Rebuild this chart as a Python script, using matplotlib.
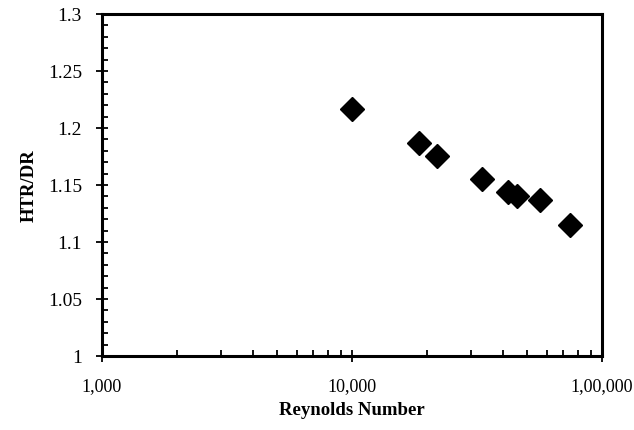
import matplotlib
matplotlib.use("Agg")
import matplotlib.pyplot as plt
from matplotlib.ticker import FixedLocator, FixedFormatter, LogLocator, MultipleLocator, NullFormatter

# data
reynolds = [10000, 18600, 21800, 33000, 42200, 45800, 56500, 74500]
htr_dr = [1.217, 1.187, 1.175, 1.155, 1.144, 1.140, 1.137, 1.115]

x_ticks = [1000, 10000, 100000]
x_labels = ["1,000", "10,000", "1,00,000"]
y_ticks = [1, 1.05, 1.1, 1.15, 1.2, 1.25, 1.3]
y_labels = ["1", "1.05", "1.1", "1.15", "1.2", "1.25", "1.3"]

plt.rcParams["font.family"] = ["Liberation Serif", "DejaVu Serif"]

fig = plt.figure(figsize=(6.34, 4.31), dpi=100)
ax = fig.add_axes([0.1609, 0.1717, 0.7886, 0.7935])

ax.plot(reynolds, htr_dr, linestyle="none", marker="D", markersize=12,
        color="black", markeredgewidth=1)

ax.set_xscale("log")
ax.set_xlim(1000, 100000)
ax.set_ylim(1, 1.3)

ax.xaxis.set_major_locator(FixedLocator(x_ticks))
ax.xaxis.set_major_formatter(FixedFormatter(x_labels))
ax.xaxis.set_minor_locator(LogLocator(base=10, subs=range(2, 10)))
ax.xaxis.set_minor_formatter(NullFormatter())
ax.yaxis.set_major_locator(FixedLocator(y_ticks))
ax.yaxis.set_major_formatter(FixedFormatter(y_labels))
ax.yaxis.set_minor_locator(MultipleLocator(0.01))

for s in ax.spines.values():
    s.set_linewidth(2.2)
    s.set_color("black")

ax.tick_params(which="major", direction="inout", length=9, width=1.3,
               colors="black")
ax.tick_params(axis="x", which="major", pad=11, labelsize=13)
ax.tick_params(axis="y", which="major", pad=10, labelsize=14)
ax.tick_params(which="minor", direction="in", length=4.5, width=1.3)

ax.set_xlabel("Reynolds Number", fontsize=13.5, fontweight="bold", labelpad=5)
ax.set_ylabel("HTR/DR", fontsize=13.5, fontweight="bold", labelpad=7)

fig.savefig("out.png", dpi=100)
